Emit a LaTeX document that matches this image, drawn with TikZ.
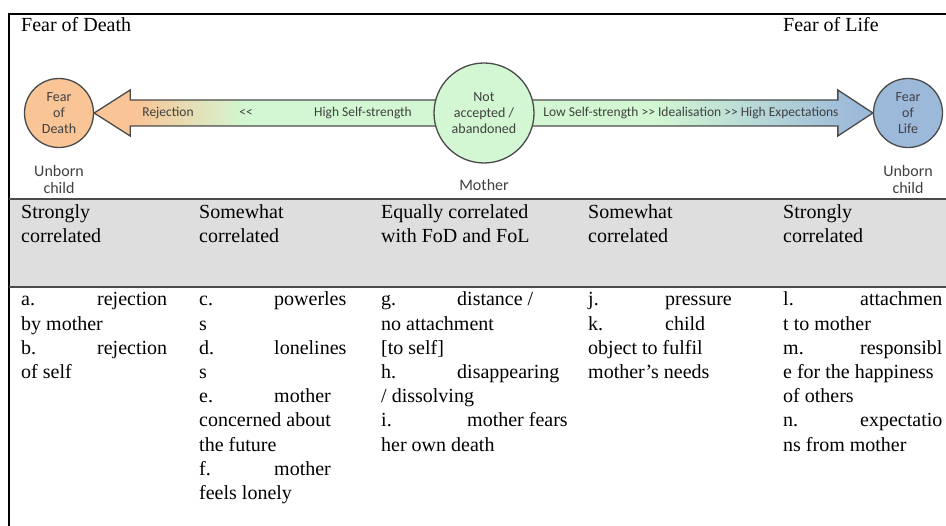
\documentclass[tikz,border=0pt]{standalone}
\usepackage{fontspec}
\setmainfont{Liberation Serif}
\newfontfamily\labelfont{Carlito}
\usetikzlibrary{calc, backgrounds}

\definecolor{fodorange}{HTML}{F9C496}
\definecolor{mothergreen}{HTML}{D2F7D2}
\definecolor{folblue}{HTML}{9CB9DA}
\definecolor{edgegray}{HTML}{4A4A4A}
\definecolor{labelgray}{HTML}{404040}
\definecolor{headgray}{HTML}{DEDEDE}

\pgfdeclarehorizontalshading{fodshade}{100bp}{color(0bp)=(fodorange); color(31bp)=(fodorange); color(47bp)=(mothergreen); color(100bp)=(mothergreen)}
\pgfdeclarehorizontalshading{folshade}{100bp}{color(0bp)=(mothergreen); color(43bp)=(mothergreen); color(73bp)=(folblue); color(100bp)=(folblue)}

\tikzset{
	circ/.style = {circle, draw = edgegray, line width = 1.3pt, minimum size = 69pt, inner sep = 0pt, align = center, text = labelgray, font = \labelfont\fontsize{14}{16}\selectfont},
	lbl/.style = {text = labelgray, font = \labelfont\fontsize{13.5}{15}\selectfont, inner sep = 0pt},
	sublbl/.style = {align = center, text = labelgray, font = \labelfont\fontsize{16}{17}\selectfont, inner sep = 0pt},
	body/.style = {anchor = base west, inner sep = 0pt, font = \fontsize{20}{24}\selectfont},
	arrowline/.style = {draw = edgegray, line width = 1.3pt, line join = miter}
}

\begin{document}
\begin{tikzpicture}[x = 1pt, y = -1pt]
	\useasboundingbox (0, 0) rectangle (946, 526);
	\fill[headgray] (9, 199) rectangle (950, 287);
	\draw[line width = 1.5pt] (9, 530) -- (9, 14) -- (950, 14);
	\draw[edgegray, line width = 2pt] (9, 199) -- (950, 199);
	\draw[edgegray, line width = 2pt] (9, 287) -- (950, 287);
	
	\node[body] (fodtitle) at (21, 32) {Fear of Death};
	\node[body] (foltitle) at (783, 32) {Fear of Life};
	
	\node[circ, fill = fodorange] (fod) at (59, 113) {Fear\\of\\Death};
	\node[circ, fill = mothergreen, minimum size = 100pt] (mother) at (484, 113) {Not\\accepted /\\abandoned};
	\node[circ, fill = folblue] (fol) at (908, 113) {Fear\\of\\Life};
	
	\begin{pgfonlayer}{background}
		\shadedraw[arrowline, shading = fodshade] (fod.east) -- ($(fod.east) + (36, -23)$) -- ($(fod.east) + (36, -13)$)
			-- ($(mother.west) + (4, -13)$) -- ($(mother.west) + (4, 13)$)
			-- ($(fod.east) + (36, 13)$) -- ($(fod.east) + (36, 23)$) -- cycle;
		\shadedraw[arrowline, shading = folshade] ($(mother.east) + (-4, -13)$) -- ($(fol.west) + (-35, -13)$)
			-- ($(fol.west) + (-35, -23)$) -- (fol.west) -- ($(fol.west) + (-35, 23)$)
			-- ($(fol.west) + (-35, 13)$) -- ($(mother.east) + (-4, 13)$) -- cycle;
	\end{pgfonlayer}
	
	\node[lbl] (rejection) at (168, 113) {Rejection};
	\node[lbl] (less) at (246, 113) {<<};
	\node[lbl] (highself) at (363, 113) {High Self-strength};
	\node[lbl] (lowself) at (691, 113) {Low Self-strength >> Idealisation >> High Expectations};
	
	\node[sublbl] (fodchild) at (59, 180) {Unborn\\child};
	\node[sublbl] (mothername) at (484, 185) {Mother};
	\node[sublbl] (folchild) at (908, 180) {Unborn\\child};
	
	\foreach \x/\a/\b [count = \n] in {21/Strongly/correlated, 199/Somewhat/correlated, 381/Equally correlated/with FoD and FoL, 588/Somewhat/correlated, 783/Strongly/correlated} {
		\node[body] (heada\n) at (\x, 219) {\a};
		\node[body] (headb\n) at (\x, 243) {\b};
	}
	
	\foreach \r/\x/\t [count = \n] in {0/21/a., 0/97/rejection, 1/21/by mother, 2/21/b., 2/97/rejection, 3/21/of self,
		0/199/c., 0/274/powerles, 1/199/s, 2/199/d., 2/274/lonelines, 3/199/s, 4/199/e., 4/274/mother, 5/199/concerned about, 6/199/the future, 7/199/f., 7/274/mother, 8/199/feels lonely,
		0/381/g., 0/457/{distance /}, 1/381/no attachment, 2/381/{[to self]}, 3/381/h., 3/457/disappearing, 4/381/{/ dissolving}, 5/381/i., 5/467/mother fears, 6/381/her own death,
		0/588/j., 0/665/pressure, 1/588/k., 1/665/child, 2/588/object to fulfil, 3/588/mother's needs,
		0/783/l., 0/860/attachmen, 1/783/t to mother, 2/783/m., 2/860/responsibl, 3/783/e for the happiness, 4/783/of others, 5/783/n., 5/860/expectatio, 6/783/ns from mother} {
		\node[body] (item\n) at (\x, 306 + 24.2*\r) {\t};
	}
\end{tikzpicture}
\end{document}
